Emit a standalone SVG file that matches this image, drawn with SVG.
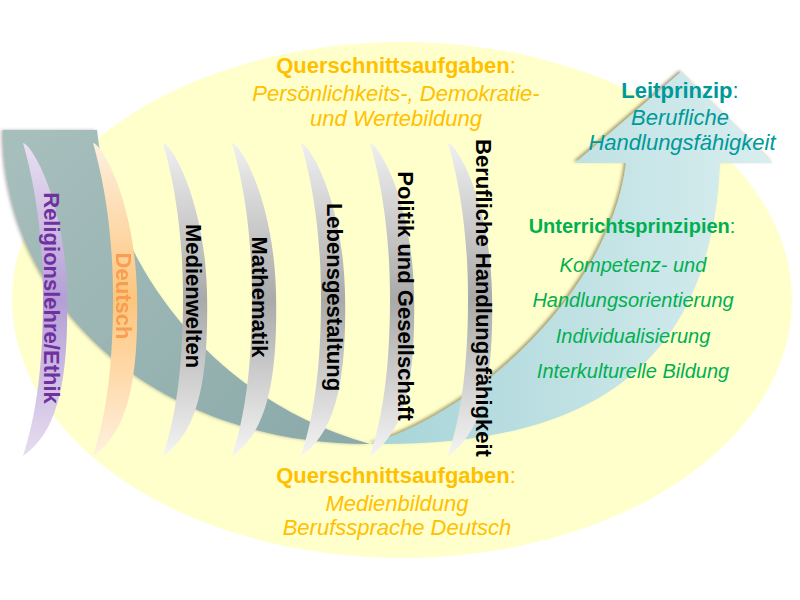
<svg xmlns="http://www.w3.org/2000/svg" width="800" height="600" viewBox="0 0 800 600">
<style>
text{font-family:"Liberation Sans",Arial,sans-serif}
.q{fill:#ffc000;font-size:22px;text-anchor:middle}
.b{font-weight:bold}
.n{font-weight:normal}
.i{font-style:italic}
.t{fill:#009999;font-size:22px;text-anchor:middle}
.g{fill:#00b050;font-size:20px;text-anchor:middle}
.v{font-size:22px;font-weight:bold;text-anchor:middle;fill:#000}
</style>
<defs>
<linearGradient id="gDark" gradientUnits="userSpaceOnUse" x1="40" y1="130" x2="360" y2="444">
<stop offset="0" stop-color="#a6bebc"/><stop offset="1" stop-color="#8aa9a9"/>
</linearGradient>
<linearGradient id="gLight" gradientUnits="userSpaceOnUse" x1="370" y1="0" x2="775" y2="0">
<stop offset="0" stop-color="#a6d4d8"/><stop offset="1" stop-color="#d9eeef"/>
</linearGradient>
<linearGradient id="gGray" x1="0" y1="0" x2="0" y2="1">
<stop offset="0" stop-color="#f0f0f0"/><stop offset="0.5" stop-color="#a9a9a9"/><stop offset="1" stop-color="#f4f4f4"/>
</linearGradient>
<linearGradient id="gPurple" x1="0" y1="0" x2="0" y2="1">
<stop offset="0" stop-color="#e8e0f1"/><stop offset="0.5" stop-color="#b59ed6"/><stop offset="1" stop-color="#e6ddf0"/>
</linearGradient>
<linearGradient id="gOrange" x1="0" y1="0" x2="0" y2="1">
<stop offset="0" stop-color="#fdf0df"/><stop offset="0.5" stop-color="#fdc57c"/><stop offset="1" stop-color="#fff1de"/>
</linearGradient>
<filter id="sh" x="-10%" y="-10%" width="120%" height="120%">
<feDropShadow dx="-2" dy="-1.5" stdDeviation="1.5" flood-color="#6b5a2a" flood-opacity="0.55"/>
</filter>
<filter id="sh2" x="-10%" y="-10%" width="120%" height="120%">
<feDropShadow dx="-2" dy="0" stdDeviation="1.5" flood-color="#555" flood-opacity="0.4"/>
</filter>
<path id="loz" d="M0,0 C10,2 42,60 44,150 C46,240 34,290 0,313 C14,270 20,220 20,155 C20,85 10,35 0,0 Z"/>
</defs>

<g id="background">
<ellipse cx="402" cy="300" rx="390" ry="258" fill="#ffffcc"/>
</g>

<g id="connectors">
<path id="arrow-back" d="M3,130 L97,130 C110,260 210,400 370,444 C150,444 3,300 3,130 Z" fill="url(#gDark)" filter="url(#sh2)"/>
<path id="arrow-front" d="M370,444 C480,410 610,290 626,163 L575,163 L681,72 L773,163 L720,163 C710,390 560,446 370,444 Z" fill="url(#gLight)" filter="url(#sh)"/>
</g>

<g id="religion">
<use href="#loz" x="23" y="143" fill="url(#gPurple)"/>
<text class="v" transform="translate(44,298) rotate(90)" style="fill:#7030a0">Religionslehre/Ethik</text>
</g>
<g id="deutsch">
<use href="#loz" x="93" y="143" fill="url(#gOrange)"/>
<text class="v" transform="translate(116,296) rotate(90)" style="fill:#f79646" opacity="0.85">Deutsch</text>
</g>
<g id="medienwelten">
<use href="#loz" x="163" y="143" fill="url(#gGray)"/>
<text class="v" transform="translate(186,296) rotate(90)">Medienwelten</text>
</g>
<g id="mathematik">
<use href="#loz" x="232" y="143" fill="url(#gGray)"/>
<text class="v" transform="translate(252,297) rotate(90)">Mathematik</text>
</g>
<g id="lebensgestaltung">
<use href="#loz" x="301" y="143" fill="url(#gGray)"/>
<text class="v" transform="translate(327,297) rotate(90)">Lebensgestaltung</text>
</g>
<g id="politik">
<use href="#loz" x="370" y="143" fill="url(#gGray)"/>
<text class="v" transform="translate(398,296) rotate(90)">Politik und Gesellschaft</text>
</g>
<g id="berufliche">
<use href="#loz" x="448" y="143" fill="url(#gGray)"/>
<text class="v" transform="translate(476,298) rotate(90)">Berufliche Handlungsfähigkeit</text>
</g>

<g id="querschnitt-oben">
<text x="396" y="73" class="q b">Querschnittsaufgaben<tspan class="n">:</tspan></text>
<text x="396" y="101" class="q i">Persönlichkeits-, Demokratie-</text>
<text x="396" y="126" class="q i">und Wertebildung</text>
</g>

<g id="querschnitt-unten">
<text x="396" y="483" class="q b">Querschnittsaufgaben<tspan class="n">:</tspan></text>
<text x="397" y="511" class="q i">Medienbildung</text>
<text x="397" y="535" class="q i">Berufssprache Deutsch</text>
</g>

<g id="leitprinzip">
<text x="680" y="98" class="t b">Leitprinzip<tspan class="n">:</tspan></text>
<text x="680" y="125" class="t i">Berufliche</text>
<text x="682" y="150" class="t i">Handlungsfähigkeit</text>
</g>

<g id="unterrichtsprinzipien">
<text x="632" y="233" class="g b">Unterrichtsprinzipien<tspan class="n">:</tspan></text>
<text x="633" y="272" class="g i">Kompetenz- und</text>
<text x="633" y="307" class="g i">Handlungsorientierung</text>
<text x="633" y="343" class="g i">Individualisierung</text>
<text x="633" y="378" class="g i">Interkulturelle Bildung</text>
</g>
</svg>
